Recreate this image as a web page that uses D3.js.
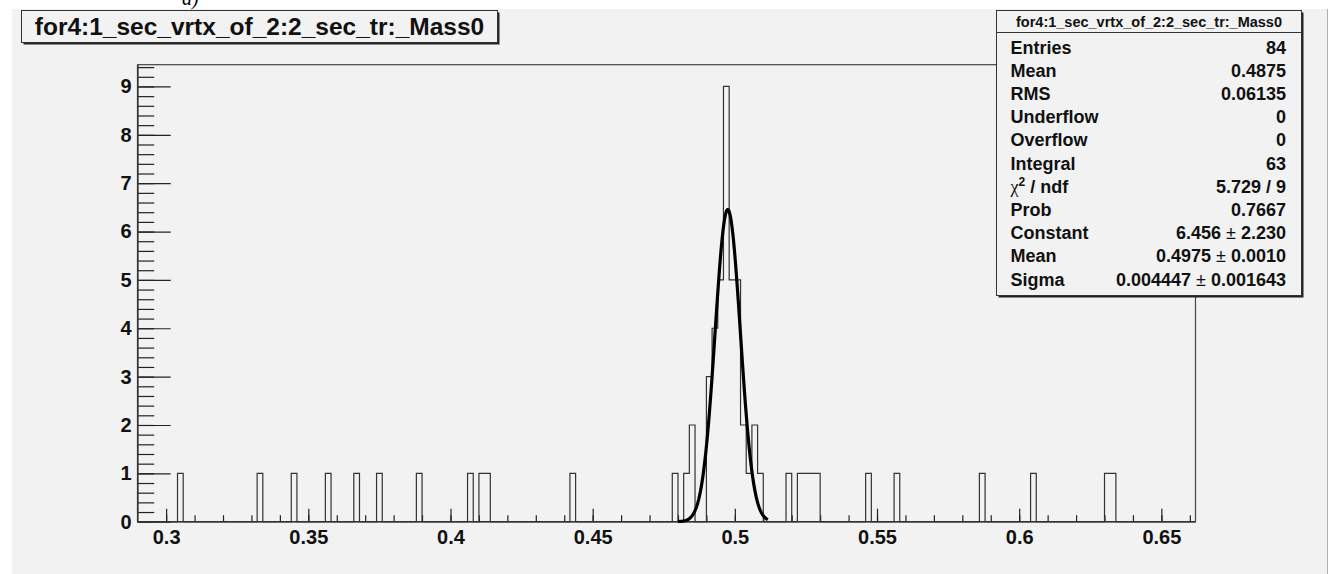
<!DOCTYPE html>
<html>
<head>
<meta charset="utf-8">
<script src="https://cdn.jsdelivr.net/npm/d3@7"></script>
<style>
  html, body { margin: 0; padding: 0; background: #ffffff; }
  svg { display: block; }
  text { font-family: "Liberation Sans", Arial, Helvetica, sans-serif; }
</style>
</head>
<body>
<script>
// histogram bins (low edge, content), bin width 0.002
var binLow = [0.304, 0.332, 0.344, 0.356, 0.366, 0.374, 0.388, 0.406, 0.410, 0.412, 0.442,
  0.478, 0.482, 0.484, 0.490, 0.492, 0.494, 0.496, 0.498, 0.500, 0.502, 0.504, 0.506, 0.508,
  0.518, 0.522, 0.524, 0.526, 0.528, 0.546, 0.556, 0.586, 0.604, 0.630, 0.632];
var binCount = [1, 1, 1, 1, 1, 1, 1, 1, 1, 1, 1,
  1, 1, 2, 3, 4, 5, 9, 5, 5, 2, 1, 2, 1,
  1, 1, 1, 1, 1, 1, 1, 1, 1, 1, 1];
var binWidth = 0.002;
var histRange = [0.29, 0.662];
var yMax = 9.45;

var xTickLabels = [0.3, 0.35, 0.4, 0.45, 0.5, 0.55, 0.6, 0.65];
var yTickLabels = [0, 1, 2, 3, 4, 5, 6, 7, 8, 9];

// gaussian fit parameters
var fitConstant = 6.456;
var fitMean = 0.4975;
var fitSigma = 0.004447;
var fitRange = [0.48, 0.5116];

var statLabels = ['Entries', 'Mean', 'RMS', 'Underflow', 'Overflow', 'Integral', 'chi2', 'Prob', 'Constant', 'Mean', 'Sigma'];
var statValues = ['84', '0.4875', '0.06135', '0', '0', '63', '5.729 / 9', '0.7667', '6.456 \u00b1 2.230', '0.4975 \u00b1 0.0010', '0.004447 \u00b1 0.001643'];

var title = 'for4:1_sec_vrtx_of_2:2_sec_tr:_Mass0';

var width = 1331, height = 574;
var svg = d3.select('body').append('svg').attr('width', width).attr('height', height);

// canvas
svg.append('rect').attr('x', 12).attr('y', 9).attr('width', 1315).attr('height', height - 9).attr('fill', '#f2f2f2');
svg.append('line').attr('x1', 1327.5).attr('x2', 1327.5).attr('y1', 9).attr('y2', height).attr('stroke', '#b0b0b0');

var x = d3.scaleLinear().domain(histRange).range([137.7, 1195.5]);
var y = d3.scaleLinear().domain([0, yMax]).range([521.7, 64.7]);

// full bin list
var nBins = Math.round((histRange[1] - histRange[0]) / binWidth);
var counts = d3.range(nBins).map(function () { return 0; });
binLow.forEach(function (lo, i) {
  counts[Math.round((lo - histRange[0]) / binWidth)] = binCount[i];
});
var steps = counts.map(function (c, i) { return [histRange[0] + i * binWidth, c]; });
steps.push([histRange[1], 0]);

var plot = svg.append('g');

// minor ticks
plot.append('g')
  .attr('transform', 'translate(0,' + y(0) + ')')
  .call(d3.axisBottom(x).tickValues(d3.range(30, 67).map(function (d) { return d / 100; })).tickSize(-6.5).tickFormat(''))
  .call(function (g) { g.select('.domain').remove(); });
plot.append('g')
  .attr('transform', 'translate(' + x(histRange[0]) + ',0)')
  .call(d3.axisLeft(y).tickValues(d3.range(0, 48).map(function (d) { return d / 5; })).tickSize(-16.5).tickFormat(''))
  .call(function (g) { g.select('.domain').remove(); });

// major ticks and labels
var xAxis = plot.append('g')
  .attr('transform', 'translate(0,' + y(0) + ')')
  .call(d3.axisBottom(x).tickValues(xTickLabels).tickSize(-13).tickPadding(8)
    .tickFormat(function (d) { return String(+d.toFixed(2)); }));
xAxis.select('.domain').remove();
var yAxis = plot.append('g')
  .attr('transform', 'translate(' + x(histRange[0]) + ',0)')
  .call(d3.axisLeft(y).tickValues(yTickLabels).tickSize(-33).tickPadding(6));
yAxis.select('.domain').remove();

plot.selectAll('.tick line').attr('stroke', '#222').attr('stroke-width', 1.2);
plot.selectAll('.tick text').attr('font-size', 20).attr('font-weight', 'bold').attr('fill', '#111')
  .style('font-family', '"Liberation Sans", Arial, sans-serif');

// histogram outline
plot.append('path')
  .datum(steps)
  .attr('d', d3.line().x(function (d) { return x(d[0]); }).y(function (d) { return y(d[1]); }).curve(d3.curveStepAfter))
  .attr('fill', 'none')
  .attr('stroke', '#333')
  .attr('stroke-width', 1.2);

// frame
plot.append('rect')
  .attr('x', x(histRange[0])).attr('y', y(yMax))
  .attr('width', x(histRange[1]) - x(histRange[0])).attr('height', y(0) - y(yMax))
  .attr('fill', 'none').attr('stroke', '#444').attr('stroke-width', 1.2);
plot.append('line')
  .attr('x1', x(histRange[0])).attr('x2', x(histRange[1]))
  .attr('y1', y(0)).attr('y2', y(0))
  .attr('stroke', '#333').attr('stroke-width', 1.6);
plot.append('line')
  .attr('x1', x(histRange[0])).attr('x2', x(histRange[0]))
  .attr('y1', y(0)).attr('y2', y(yMax))
  .attr('stroke', '#333').attr('stroke-width', 1.6);

// fit curve
var fitX = d3.range(0, 101).map(function (i) { return fitRange[0] + (fitRange[1] - fitRange[0]) * i / 100; });
plot.append('path')
  .datum(fitX)
  .attr('d', d3.line()
    .x(function (d) { return x(d); })
    .y(function (d) { return y(fitConstant * Math.exp(-0.5 * Math.pow((d - fitMean) / fitSigma, 2))); }))
  .attr('fill', 'none')
  .attr('stroke', '#000')
  .attr('stroke-width', 3.2)
  .attr('stroke-linejoin', 'round');

// "a)" label, cut off at the top
svg.append('text')
  .attr('x', 182).attr('y', 5)
  .attr('font-size', 20)
  .attr('font-style', 'italic')
  .style('font-family', '"Liberation Serif", "Times New Roman", serif')
  .text('a)');

// title box
var tb = { x: 21.5, y: 10.5, w: 476, h: 32 };
svg.append('rect').attr('x', tb.x + 2).attr('y', tb.y + 2).attr('width', tb.w).attr('height', tb.h).attr('fill', '#222');
svg.append('rect').attr('x', tb.x).attr('y', tb.y).attr('width', tb.w).attr('height', tb.h)
  .attr('fill', '#f2f2f2').attr('stroke', '#333').attr('stroke-width', 1);
svg.append('text')
  .attr('x', tb.x + tb.w / 2).attr('y', 35)
  .attr('text-anchor', 'middle')
  .attr('font-size', 24.5).attr('font-weight', 'bold').attr('fill', '#111')
  .text(title);

// stats box
var sb = { x: 996.5, y: 10.5, w: 305, h: 285 };
svg.append('rect').attr('x', sb.x + 2).attr('y', sb.y + 2).attr('width', sb.w).attr('height', sb.h).attr('fill', '#222');
svg.append('rect').attr('x', sb.x).attr('y', sb.y).attr('width', sb.w).attr('height', sb.h)
  .attr('fill', '#f2f2f2').attr('stroke', '#333').attr('stroke-width', 1);
svg.append('line').attr('x1', sb.x).attr('x2', sb.x + sb.w).attr('y1', 32.5).attr('y2', 32.5).attr('stroke', '#333');
svg.append('text')
  .attr('x', sb.x + sb.w / 2).attr('y', 27)
  .attr('text-anchor', 'middle')
  .attr('font-size', 14.5).attr('font-weight', 'bold').attr('fill', '#111')
  .text(title);

var rows = svg.append('g').selectAll('g').data(statLabels).enter().append('g')
  .attr('transform', function (d, i) { return 'translate(0,' + (53.5 + i * 23.2) + ')'; });

rows.append('text')
  .attr('x', 1010.5)
  .attr('font-size', 18).attr('font-weight', 'bold').attr('fill', '#111')
  .each(function (d) {
    var t = d3.select(this);
    if (d === 'chi2') {
      t.append('tspan').attr('font-weight', 'normal').style('font-family', '"Liberation Serif", serif').text('\u03c7');
      t.append('tspan').attr('font-size', 12).attr('dy', -7).text('2');
      t.append('tspan').attr('dy', 7).text(' / ndf');
    } else {
      t.text(d);
    }
  });

rows.append('text')
  .attr('x', 1286)
  .attr('text-anchor', 'end')
  .attr('font-size', 18).attr('font-weight', 'bold').attr('fill', '#111')
  .each(function (d, i) {
    var t = d3.select(this);
    var parts = statValues[i].split('\u00b1');
    t.append('tspan').text(parts[0]);
    if (parts.length > 1) {
      t.append('tspan').attr('font-weight', 'normal').text('\u00b1');
      t.append('tspan').text(parts[1]);
    }
  });
</script>
</body>
</html>
